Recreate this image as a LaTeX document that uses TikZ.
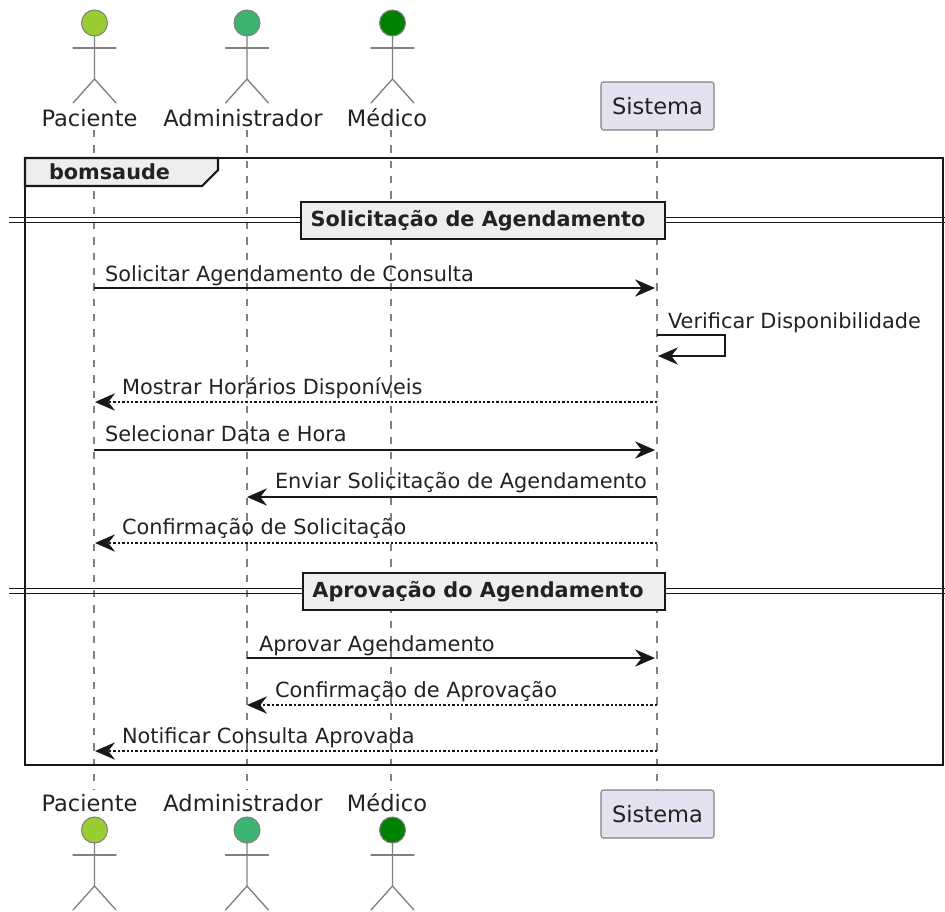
\documentclass[tikz,border=0pt]{standalone}
\usepackage{fontspec}
\setmainfont{DejaVu Sans}
\usetikzlibrary{arrows.meta}
\definecolor{inkc}{HTML}{181818}
\definecolor{txtc}{HTML}{222222}
\definecolor{grayl}{HTML}{808080}
\definecolor{boxf}{HTML}{E2E2F0}
\definecolor{tabf}{HTML}{EEEEEE}
\definecolor{pacc}{HTML}{9ACD32}
\definecolor{admc}{HTML}{3CB371}
\definecolor{medc}{HTML}{008000}
\tikzset{
 x=0.75pt,y=-0.75pt,
 every node/.style={inner sep=0pt,outer sep=0pt,text=txtc},
 limb/.style={draw=grayl,line width=1.0pt,line cap=round},
 head/.style={circle,draw=grayl,line width=0.8pt,minimum size=26*0.75pt},
 lifeline/.style={draw=grayl,line width=0.85pt,dash pattern=on 5.5pt off 6pt},
 part/.style={font=\fontsize{16.9pt}{19pt}\selectfont,anchor=base},
 msgtxt/.style={font=\fontsize{15.65pt}{18pt}\selectfont,anchor=base west},
 boxp/.style={draw=grayl,line width=0.8pt,rounded corners=2pt,fill=boxf,minimum width=113*0.75pt,minimum height=48*0.75pt,font=\fontsize{16.9pt}{19pt}\selectfont},
 msg/.style={draw=inkc,line width=1.0pt,-{Stealth[length=15pt,width=13pt,inset=5pt,fill=inkc]}},
 ret/.style={msg,line width=0.9pt,dash pattern=on 1.8pt off 1.5pt},
 divbox/.style={draw=inkc,line width=2.2pt,fill=tabf,minimum height=37*0.75pt},
 divtxt/.style={font=\bfseries\fontsize{15.6pt}{18pt}\selectfont},
 divline/.style={draw=inkc,line width=1.3pt},
}
\newcommand{\actorfig}[4]{% name, x, head y, colour
 \node[head,fill=#4] (#1) at (#2,#3) {};
 \draw[limb] (#1.south) -- ++(0,43) -- ++(-21.5,24);
 \draw[limb] (#2,#3+56) -- ++(21.5,24);
 \draw[limb] (#2-21.5,#3+25) -- (#2+21.5,#3+25);
}
\begin{document}
\begin{tikzpicture}
\useasboundingbox (0,0) rectangle (945,911);
\clip (0,0) rectangle (945,911);
% lifeline ends
\foreach \n/\x in {p/94,a/247,m/391,s/657}{
  \coordinate (\n top) at (\x,130);
  \coordinate (\n bot) at (\x,790);
}
\draw[lifeline] (ptop) -- (pbot);
\draw[lifeline] (atop) -- (abot);
\draw[lifeline] (mtop) -- (mbot);
\draw[lifeline] (stop) -- (sbot);
% participants
\actorfig{pt}{94.5}{23}{pacc}
\actorfig{at}{247}{23}{admc}
\actorfig{mt}{392.5}{23}{medc}
\actorfig{pb}{94.5}{830}{pacc}
\actorfig{ab}{247}{830}{admc}
\actorfig{mb}{392.5}{830}{medc}
\node[part] (lp1) at (89.5,126) {Paciente};
\node[part] (la1) at (243,126) {Administrador};
\node[part] (lm1) at (387,126) {Médico};
\node[part] (lp2) at (89.5,811) {Paciente};
\node[part] (la2) at (243,811) {Administrador};
\node[part] (lm2) at (387,811) {Médico};
\node[boxp] (st) at (657.5,106) {Sistema};
\node[boxp] (sb) at (657.5,814) {Sistema};
% frame
\draw[inkc,line width=2pt] (25,158) rectangle (943,765);
\draw[inkc,line width=1.6pt,fill=tabf] (25,158) -- (218,158) -- (218,170) -- (202,186) -- (25,186) -- cycle;
\node[font=\bfseries\fontsize{15.6pt}{18pt}\selectfont,anchor=base west] (fr) at (49,179) {bomsaude};
% dividers
\foreach \y in {217.5,222.5}{\draw[divline] (9,\y) -- (945,\y);}
\node[divbox,minimum width=364*0.75pt] (d1) at (483,220.5) {};
\node[divtxt] (d1t) at (478,220.5) {Solicitação de Agendamento};
\foreach \y in {588.5,593.5}{\draw[divline] (9,\y) -- (945,\y);}
\node[divbox,minimum width=362*0.75pt] (d2) at (484,591.5) {};
\node[divtxt] (d2t) at (478,591.5) {Aprovação do Agendamento};
% message end points on the lifelines
\foreach \n/\x/\y in {pA/94/288,sA/655/288,sB/657/335,bendA/725/335,bendB/725/356,sC/658/356,
  sD/657/402,pD/95/402,pE/94/450,sE/655/450,sF/657/497,aF/247/497,sG/657/543,pG/95/543,
  aH/247/658,sH/655/658,sI/657/705,aI/247/705,sJ/657/751,pJ/95/751}{
  \coordinate (\n) at (\x,\y);
}
\draw[msg] (pA) -- (sA);
\draw[msg] (sB) -- (bendA) -- (bendB) -- (sC);
\draw[ret] (sD) -- (pD);
\draw[msg] (pE) -- (sE);
\draw[msg] (sF) -- (aF);
\draw[ret] (sG) -- (pG);
\draw[msg] (aH) -- (sH);
\draw[ret] (sI) -- (aI);
\draw[ret] (sJ) -- (pJ);
\node[msgtxt] (t1) at (105,281) {Solicitar Agendamento de Consulta};
\node[msgtxt] (t2) at (668,328) {Verificar Disponibilidade};
\node[msgtxt] (t3) at (122,394) {Mostrar Horários Disponíveis};
\node[msgtxt] (t4) at (105,441) {Selecionar Data e Hora};
\node[msgtxt] (t5) at (275,488) {Enviar Solicitação de Agendamento};
\node[msgtxt] (t6) at (122,534) {Confirmação de Solicitação};
\node[msgtxt] (t7) at (259,651) {Aprovar Agendamento};
\node[msgtxt] (t8) at (275,697) {Confirmação de Aprovação};
\node[msgtxt] (t9) at (122,743) {Notificar Consulta Aprovada};
\end{tikzpicture}
\end{document}
